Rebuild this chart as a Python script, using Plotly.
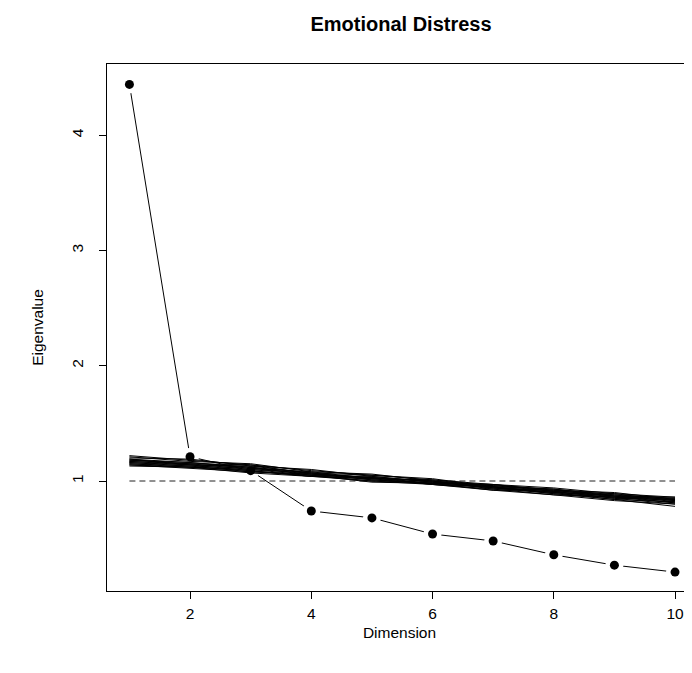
import plotly.graph_objects as go

# observed eigenvalues (scree)
dims = [1, 2, 3, 4, 5, 6, 7, 8, 9, 10]
eigen = [4.44, 1.21, 1.09, 0.74, 0.68, 0.54, 0.48, 0.36, 0.27, 0.21]

# eigenvalues of simulated (random) data sets, one list per replicate
sim_1 = [1.22, 1.18, 1.14, 1.09, 1.05, 1.01, 0.97, 0.94, 0.89, 0.86]
sim_2 = [1.21, 1.17, 1.15, 1.08, 1.06, 1.00, 0.96, 0.93, 0.88, 0.85]
sim_3 = [1.20, 1.19, 1.13, 1.10, 1.04, 0.99, 0.97, 0.92, 0.90, 0.84]
sim_4 = [1.19, 1.16, 1.12, 1.07, 1.05, 1.02, 0.95, 0.93, 0.87, 0.86]
sim_5 = [1.18, 1.15, 1.14, 1.06, 1.03, 0.98, 0.96, 0.91, 0.89, 0.83]
sim_6 = [1.18, 1.16, 1.11, 1.08, 1.02, 1.00, 0.94, 0.92, 0.86, 0.85]
sim_7 = [1.17, 1.14, 1.12, 1.05, 1.04, 0.99, 0.95, 0.90, 0.88, 0.82]
sim_8 = [1.17, 1.15, 1.10, 1.07, 1.01, 0.98, 0.97, 0.91, 0.85, 0.84]
sim_9 = [1.16, 1.13, 1.11, 1.06, 1.03, 1.00, 0.93, 0.92, 0.87, 0.81]
sim_10 = [1.16, 1.14, 1.09, 1.04, 1.02, 0.97, 0.95, 0.89, 0.86, 0.83]
sim_11 = [1.15, 1.12, 1.10, 1.05, 1.00, 0.99, 0.94, 0.90, 0.84, 0.82]
sim_12 = [1.15, 1.13, 1.08, 1.06, 1.01, 0.98, 0.92, 0.91, 0.85, 0.80]
sim_13 = [1.14, 1.12, 1.09, 1.04, 1.03, 0.97, 0.93, 0.88, 0.86, 0.81]
sim_14 = [1.14, 1.11, 1.08, 1.05, 0.99, 0.98, 0.94, 0.89, 0.84, 0.78]
sim_15 = [1.13, 1.12, 1.07, 1.04, 1.00, 0.97, 0.92, 0.88, 0.83, 0.80]
sim_16 = [1.19, 1.14, 1.13, 1.07, 1.02, 1.01, 0.95, 0.90, 0.87, 0.84]
sims = [sim_1, sim_2, sim_3, sim_4, sim_5, sim_6, sim_7, sim_8,
        sim_9, sim_10, sim_11, sim_12, sim_13, sim_14, sim_15, sim_16]

kaiser_x = [1, 10]
kaiser_y = [1, 1]

x_ticks = [2, 4, 6, 8, 10]
y_ticks = [1, 2, 3, 4]

FONT = "Liberation Sans, Arial, Helvetica, sans-serif"
W, H = 684, 665   # page body has an 8px margin
TICK = 15.5
LAB = 15.5

fig = go.Figure()
# scree line, with R type="b" gaps faked by white discs under the points
fig.add_scatter(x=dims, y=eigen, mode="lines", line=dict(color="black", width=1),
                showlegend=False, hoverinfo="skip")
fig.add_scatter(x=dims, y=eigen, mode="markers",
                marker=dict(color="white", size=18, line=dict(width=0)),
                showlegend=False, hoverinfo="skip")
fig.add_scatter(x=dims, y=eigen, mode="markers",
                marker=dict(color="black", size=9, line=dict(width=0)),
                showlegend=False)
fig.add_scatter(x=kaiser_x, y=kaiser_y, mode="lines",
                line=dict(color="#222222", width=1, dash="6px,4px"),
                showlegend=False, hoverinfo="skip")
for s in sims:
    fig.add_scatter(x=dims, y=s, mode="lines", line=dict(color="black", width=1),
                    showlegend=False, hoverinfo="skip")

fig.update_layout(
    width=W, height=H,
    margin=dict(l=99, r=0, t=56, b=82, pad=0),
    plot_bgcolor="white", paper_bgcolor="white",
    font=dict(family=FONT, size=LAB, color="black"),
    title=dict(text="<b>Emotional Distress</b>", x=393 / W, xanchor="center",
               y=1 - 16 / H, yanchor="middle", yref="container",
               font=dict(size=20, family=FONT, color="black")),
)
fig.update_xaxes(range=[0.63, 10.28], tickvals=x_ticks, ticks="outside", ticklen=7,
                 tickcolor="black", showline=True, linecolor="black", linewidth=1,
                 mirror=True, showgrid=False, zeroline=False,
                 tickfont=dict(size=TICK), ticklabelstandoff=1,
                 title=dict(text="Dimension", standoff=6, font=dict(size=LAB)))
fig.update_yaxes(range=[0.046, 4.617], tickvals=y_ticks, ticks="outside", ticklen=7,
                 tickcolor="black", showline=True, linecolor="black", linewidth=1,
                 mirror=False, showgrid=False, zeroline=False, tickangle=-90,
                 tickfont=dict(size=TICK), ticklabelstandoff=10,
                 title=dict(text="Eigenvalue", standoff=21, font=dict(size=LAB)))

fig.write_html("out.html")
